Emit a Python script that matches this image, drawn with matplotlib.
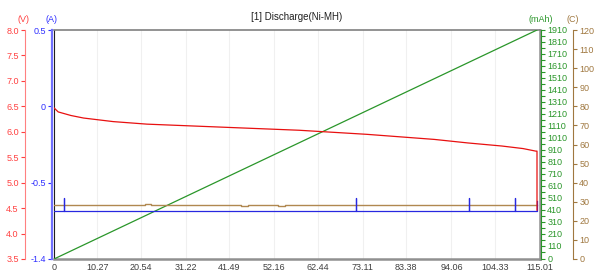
import matplotlib
matplotlib.use("Agg")
import matplotlib.pyplot as plt

plt.rcParams['font.family'] = ['Liberation Sans', 'DejaVu Sans']
plt.rcParams['font.size'] = 6.5

# time axis (min)
x_ticks = [0, 10.27, 20.54, 31.22, 41.49, 52.16, 62.44, 73.11, 83.38, 94.06, 104.33, 115.01]
x_labels = ['0', '10.27', '20.54', '31.22', '41.49', '52.16', '62.44', '73.11', '83.38', '94.06', '104.33', '115.01']

# voltage (V)
volt_t = [0, 1, 4, 7, 14, 22, 34, 46, 58, 66, 74, 82, 90, 98, 106, 111, 114, 114.3, 114.3]
volt_v = [6.47, 6.39, 6.32, 6.27, 6.2, 6.15, 6.11, 6.07, 6.03, 5.99, 5.95, 5.9, 5.85, 5.78, 5.72, 5.67, 5.62, 5.62, 4.46]

# current (A), with short spikes
cur_t = [0, 2.3, 2.3, 2.3, 71.4, 71.4, 71.4, 98.3, 98.3, 98.3, 109.2, 109.2, 109.2, 114.3, 114.3]
cur_v = [-0.684, -0.684, -0.6, -0.684, -0.684, -0.6, -0.684, -0.684, -0.6, -0.684, -0.684, -0.6, -0.684, -0.684, -0.62]

# capacity (mAh)
cap_t = [0, 114.3]
cap_v = [0, 1910]

# temperature (C)
temp_t = [0, 21.5, 21.5, 23.0, 23.0, 27.8, 27.8, 44.3, 44.3, 45.9, 45.9, 53.0, 53.0, 54.6, 54.6, 114.3]
temp_v = [28.1, 28.1, 28.8, 28.8, 28.1, 28.1, 28.5, 28.5, 27.8, 27.8, 28.5, 28.5, 27.8, 27.8, 28.5, 28.5]

mah_major = [0] + list(range(110, 1911, 100))
mah_minor = list(range(60, 1861, 100))

red = '#e81010'
red_ax = '#ff4040'
blue = '#2828e0'
blue_ax = '#3030ff'
green = '#2a962a'
brown = '#b08850'
brown_ax = '#a07840'

PX = 72 / 100  # points per pixel

fig = plt.figure(figsize=(6.0, 2.76), dpi=100)
ax = fig.add_axes([54 / 600, 1 - 259 / 276, (540 - 54) / 600, (259 - 30) / 276])
ax.set_xlim(0, 115.01)
ax.set_ylim(0, 1)
ax.set_yticks([])
ax.set_xticks(x_ticks)
ax.set_xticklabels(x_labels, color='#404040')
ax.tick_params(axis='x', length=0, pad=3)
ax.grid(axis='x', color='#f0f0f0', linewidth=0.8)
ax.spines['top'].set_color('#808080')
ax.spines['top'].set_linewidth(1.2)
ax.spines['bottom'].set_color('#909090')
ax.spines['bottom'].set_linewidth(1.8)
ax.spines['right'].set_color('#909090')
ax.spines['right'].set_linewidth(1.8)
ax.spines['left'].set_color('#202020')
ax.spines['left'].set_linewidth(0.8)
ax.set_title('[1] Discharge(Ni-MH)', fontsize=7, color='#202020', pad=7)


def side_axis(side, offset_px, color, lw=0.8):
    a = ax.twinx()
    for s in a.spines.values():
        s.set_visible(False)
    a.spines[side].set_visible(True)
    a.spines[side].set_position(('outward', offset_px * PX))
    a.spines[side].set_color(color)
    a.spines[side].set_linewidth(lw)
    a.yaxis.set_ticks_position(side)
    a.yaxis.set_label_position(side)
    a.tick_params(axis='y', colors=color, length=3, width=0.8, pad=1.5,
                  which='both')
    a.set_xlim(0, 115.01)
    return a


# capacity axis (green, right)
ax_c = side_axis('right', 1, green)
ax_c.set_ylim(0, 1910)
ax_c.set_yticks(mah_major)
ax_c.set_yticks(mah_minor, minor=True)
ax_c.plot(cap_t, cap_v, color=green, linewidth=0.9)

# temperature axis (brown, right outer)
ax_t = side_axis('right', 33, brown_ax)
ax_t.set_ylim(0, 120)
ax_t.set_yticks(range(0, 121, 10))
ax_t.plot(temp_t, temp_v, color=brown, linewidth=1.0)

# current axis (blue, left)
ax_a = side_axis('left', 2, '#7070ff', lw=1.6)
ax_a.set_ylim(-1.0, 0.5)
ax_a.set_yticks([0.5, 0, -0.5, -1.0])
ax_a.set_yticklabels(['0.5', '0', '-0.5', '-1.4'])
ax_a.tick_params(axis='y', colors=blue_ax)
ax_a.plot(cur_t, cur_v, color=blue, linewidth=0.9)

# voltage axis (red, left outer)
ax_v = side_axis('left', 29, '#ff8080')
ax_v.set_ylim(3.5, 8.0)
ax_v.set_yticks([3.5, 4.0, 4.5, 5.0, 5.5, 6.0, 6.5, 7.0, 7.5, 8.0])
ax_v.set_yticklabels(['3.5', '4.0', '4.5', '5.0', '5.5', '6.0', '6.5', '7.0', '7.5', '8.0'])
ax_v.tick_params(axis='y', colors=red_ax)
ax_v.plot(volt_t, volt_v, color=red, linewidth=0.9)

# unit labels
fig.text(24 / 600, 1 - 19 / 276, '(V)', color=red_ax, ha='center', va='center')
fig.text(51 / 600, 1 - 19 / 276, '(A)', color=blue_ax, ha='center', va='center')
fig.text(541 / 600, 1 - 19 / 276, '(mAh)', color=green, ha='center', va='center')
fig.text(573 / 600, 1 - 19 / 276, '(C)', color=brown_ax, ha='center', va='center')

fig.savefig('out.png', dpi=100)
